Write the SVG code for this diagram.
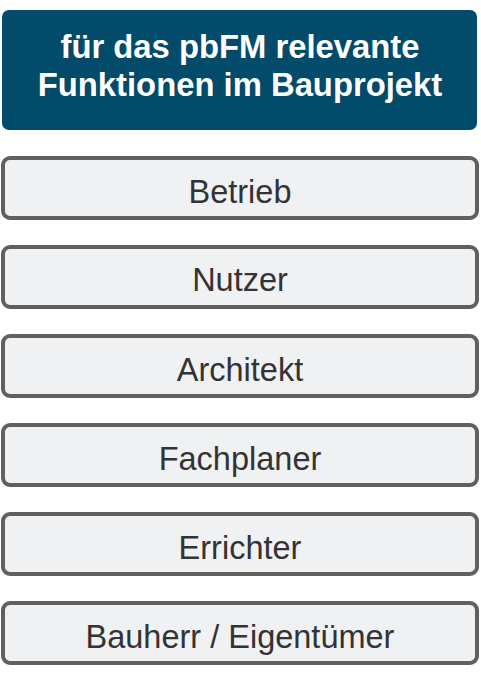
<svg xmlns="http://www.w3.org/2000/svg" width="481" height="674" viewBox="0 0 481 674">
<style>
.box{fill:#f0f1f3;stroke:#606060;stroke-width:4}
.lbl{font-family:"Liberation Sans",Arial,sans-serif;font-size:32.5px;fill:#333333;text-anchor:middle}
.hd{font-family:"Liberation Sans",Arial,sans-serif;font-size:32.8px;font-weight:bold;fill:#ffffff;text-anchor:middle}
</style>
<rect width="481" height="674" fill="#ffffff"/>
<g id="header">
<rect x="2" y="10" width="475" height="120" rx="7" fill="#034b6a"/>
<text class="hd" x="240" y="57.5">für das pbFM relevante</text>
<text class="hd" x="240" y="95.5">Funktionen im Bauprojekt</text>
</g>
<g id="connectors"></g>
<g id="betrieb"><rect class="box" x="3" y="158" width="474" height="60" rx="7"/><text class="lbl" x="240" y="203">Betrieb</text></g>
<g id="nutzer"><rect class="box" x="3" y="247" width="474" height="60" rx="7"/><text class="lbl" x="240" y="291">Nutzer</text></g>
<g id="architekt"><rect class="box" x="3" y="336" width="474" height="60" rx="7"/><text class="lbl" x="240" y="380.5">Architekt</text></g>
<g id="fachplaner"><rect class="box" x="3" y="425" width="474" height="60" rx="7"/><text class="lbl" x="240" y="469.5">Fachplaner</text></g>
<g id="errichter"><rect class="box" x="3" y="514" width="474" height="60" rx="7"/><text class="lbl" x="240" y="558.5">Errichter</text></g>
<g id="bauherr"><rect class="box" x="3" y="603" width="474" height="60" rx="7"/><text class="lbl" x="240" y="647.5">Bauherr / Eigentümer</text></g>
</svg>
